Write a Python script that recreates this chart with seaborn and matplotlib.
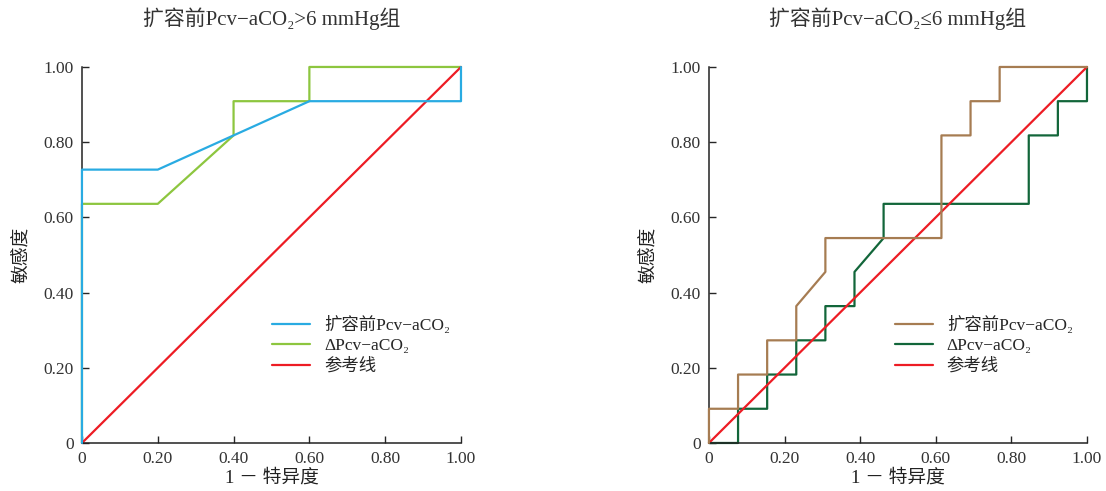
import matplotlib
matplotlib.use("Agg")
import matplotlib.pyplot as plt
import pandas as pd
import seaborn as sns

# left panel: baseline Pcv-aCO2 > 6 mmHg
left_base_fpr = [0, 0, 0.2, 0.6, 1.0, 1.0]
left_base_tpr = [0, 0.727, 0.727, 0.909, 0.909, 1.0]
left_delta_fpr = [0, 0, 0.2, 0.4, 0.4, 0.6, 0.6, 1.0]
left_delta_tpr = [0, 0.636, 0.636, 0.818, 0.909, 0.909, 1.0, 1.0]

# right panel: baseline Pcv-aCO2 <= 6 mmHg (steps of 1/13 and 1/11)
right_base_fpr = [0, 0, 0.077, 0.077, 0.154, 0.154, 0.231, 0.231, 0.308, 0.308,
                  0.615, 0.615, 0.692, 0.692, 0.769, 0.769, 1.0]
right_base_tpr = [0, 0.091, 0.091, 0.182, 0.182, 0.273, 0.273, 0.364, 0.455, 0.545,
                  0.545, 0.818, 0.818, 0.909, 0.909, 1.0, 1.0]
right_delta_fpr = [0, 0.077, 0.077, 0.154, 0.154, 0.231, 0.231, 0.308, 0.308, 0.385,
                   0.385, 0.462, 0.462, 0.846, 0.846, 0.923, 0.923, 1.0, 1.0]
right_delta_tpr = [0, 0, 0.091, 0.091, 0.182, 0.182, 0.273, 0.273, 0.364, 0.364,
                   0.455, 0.545, 0.636, 0.636, 0.818, 0.818, 0.909, 0.909, 1.0]

ref_fpr = [0, 1]
ref_tpr = [0, 1]

series_names = ["扩容前Pcv−aCO₂", "ΔPcv−aCO₂", "参考线"]
titles = ["扩容前Pcv−aCO₂>6 mmHg组", "扩容前Pcv−aCO₂≤6 mmHg组"]
tick_vals = [0, 0.2, 0.4, 0.6, 0.8, 1.0]
tick_labels = ["0", "0.20", "0.40", "0.60", "0.80", "1.00"]

sns.set_style("ticks")
plt.rcParams["font.family"] = ["Liberation Serif", "Noto Sans CJK SC", "DejaVu Serif"]


def make_df(base_x, base_y, delta_x, delta_y):
    frames = []
    for name, xs, ys in zip(series_names,
                            [base_x, delta_x, ref_fpr],
                            [base_y, delta_y, ref_tpr]):
        frames.append(pd.DataFrame({"fpr": xs, "tpr": ys, "curve": name}))
    return pd.concat(frames, ignore_index=True)


panels = [
    (make_df(left_base_fpr, left_base_tpr, left_delta_fpr, left_delta_tpr),
     ["#29abe2", "#8dc63f", "#ed1c24"], [0.0741, 0.0978, 0.3427, 0.7658], (0.46, 0.38)),
    (make_df(right_base_fpr, right_base_tpr, right_delta_fpr, right_delta_tpr),
     ["#a67c52", "#12663a", "#ed1c24"], [0.6410, 0.0978, 0.3418, 0.7658], (0.45, 0.38)),
]

fig = plt.figure(figsize=(11.06, 4.91), dpi=100)
for (df, colors, rect, leg_pos), title in zip(panels, titles):
    ax = fig.add_axes(rect)
    sns.lineplot(data=df, x="fpr", y="tpr", hue="curve", sort=False,
                 estimator=None, palette=colors, linewidth=1.6, ax=ax,
                 clip_on=False)
    # first curve sits on top of the second one
    ax.lines[0].set_zorder(2.6)
    ax.set_xlim(0, 1)
    ax.set_ylim(0, 1)
    ax.set_xticks(tick_vals, tick_labels)
    ax.set_yticks(tick_vals, tick_labels)
    ax.tick_params(direction="in", length=5, width=1, labelsize=12.5,
                   labelcolor="#333333", pad=6)
    sns.despine(ax=ax)
    for s in ["left", "bottom"]:
        ax.spines[s].set_linewidth(1.1)
        ax.spines[s].set_color("#222222")
    ax.set_xlabel("1 － 特异度", fontsize=13.5, color="#222222", labelpad=1)
    ax.set_ylabel("敏感度", fontsize=13.5, color="#222222", labelpad=9)
    ax.set_title(title, fontsize=15, color="#333333", pad=30)
    leg = ax.legend(loc="upper left", bbox_to_anchor=leg_pos, frameon=False,
                    fontsize=12.5, handlelength=2.2, labelspacing=0.25,
                    title=None)

fig.savefig("out.png", dpi=100)
